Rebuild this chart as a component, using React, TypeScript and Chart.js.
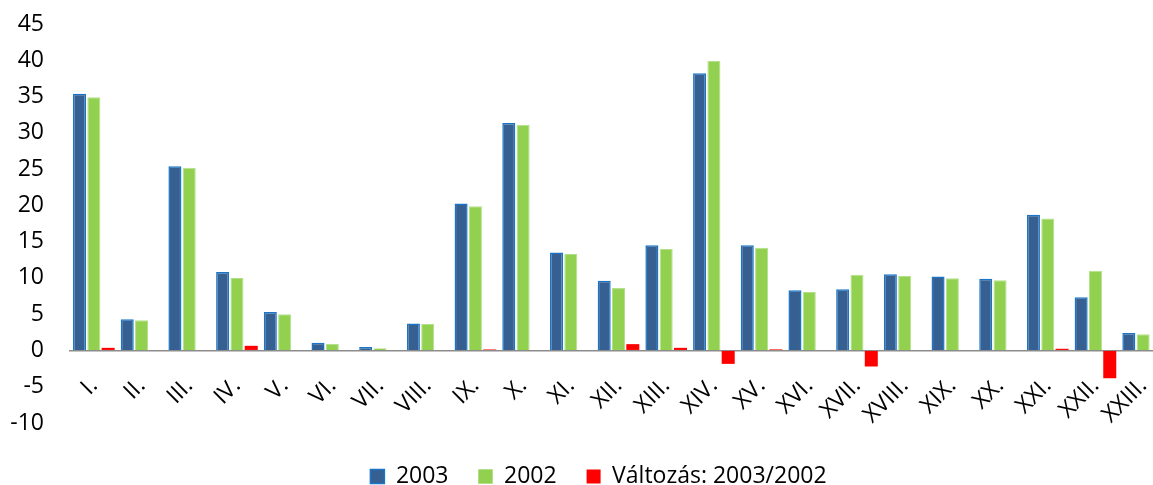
import React, { useEffect, useRef } from "react";
import { Chart, registerables } from "chart.js";

Chart.register(...registerables);

const categories = [
  "I.", "II.", "III.", "IV.", "V.", "VI.", "VII.", "VIII.", "IX.", "X.", "XI.", "XII.",
  "XIII.", "XIV.", "XV.", "XVI.", "XVII.", "XVIII.", "XIX.", "XX.", "XXI.", "XXII.", "XXIII.",
];
const values2003 = [
  35.4, 4.3, 25.4, 10.8, 5.3, 1.05, 0.46, 3.73, 20.24, 31.35, 13.5, 9.6,
  14.5, 38.2, 14.5, 8.3, 8.45, 10.5, 10.2, 9.9, 18.7, 7.33, 2.4,
];
const values2002 = [
  34.9, 4.15, 25.2, 10.0, 5.0, 0.9, 0.32, 3.64, 19.87, 31.1, 13.3, 8.6,
  14.0, 39.9, 14.15, 8.06, 10.42, 10.28, 9.96, 9.68, 18.2, 11.0, 2.25,
];
const valuesChange = [
  0.36, 0, 0, 0.64, 0, 0, 0, 0, 0.14, 0, 0, 0.87,
  0.36, -1.85, 0.15, 0, -2.21, 0, 0, 0, 0.23, -3.83, 0,
];
const seriesLabels = ["2003", "2002", "Változás: 2003/2002"];
const yTicks = { min: -10, max: 45, step: 5 };

const FONT = "'Open Sans', 'Liberation Sans', sans-serif";

const legendShift = {
  id: "legendShift",
  beforeDraw(chart: any) {
    const lg = chart.legend;
    if (lg && !lg.__shifted) {
      lg.left += 15;
      lg.right += 15;
      lg.__shifted = true;
    }
  },
};

export default function App() {
  const ref = useRef<HTMLCanvasElement | null>(null);

  useEffect(() => {
    if (!ref.current) return;
    const chart = new Chart(ref.current, {
      type: "bar",
      data: {
        labels: categories,
        datasets: [
          {
            label: seriesLabels[0],
            data: values2003,
            backgroundColor: "#366092",
            borderColor: "#1A75C8",
            borderWidth: 1.5,
          },
          {
            label: seriesLabels[1],
            data: values2002,
            backgroundColor: "#92D050",
            borderColor: "#B3E08A",
            borderWidth: 1,
          },
          {
            label: seriesLabels[2],
            data: valuesChange,
            backgroundColor: "#FF0000",
            borderColor: "#FF0000",
            borderWidth: 0,
          },
        ],
      },
      plugins: [legendShift],
      options: {
        responsive: false,
        animation: false,
        devicePixelRatio: 1,
        layout: { padding: { left: 0, right: 30, top: 24, bottom: -13 } },
        datasets: {
          bar: { categoryPercentage: 0.9, barPercentage: 0.91 },
        },
        plugins: {
          title: { display: false },
          tooltip: { enabled: false },
          legend: {
            position: "bottom",
            title: { display: true, text: "", font: { size: 1 }, padding: { top: 10.8, bottom: 0 } },
            labels: {
              boxWidth: 14,
              boxHeight: 14,
              padding: 30,
              color: "#000",
              font: { family: FONT, size: 23 },
            },
          },
        },
        scales: {
          x: {
            position: { y: 0 } as any,
            grid: { display: true, color: "rgba(0,0,0,0)", drawTicks: false, drawOnChartArea: false },
            border: { display: true, color: "#8C8C8C", width: 1.5 },
            ticks: {
              autoSkip: false,
              minRotation: 45,
              maxRotation: 45,
              padding: 22,
              color: "#000",
              font: { family: FONT, size: 23 },
            },
          },
          y: {
            min: yTicks.min,
            max: yTicks.max,
            grid: {
              display: true,
              drawOnChartArea: false,
              drawTicks: true,
              tickLength: 26,
              color: "rgba(0,0,0,0)",
            },
            border: { display: false },
            afterFit: (scale: any) => {
              scale.width = 70;
            },
            ticks: {
              stepSize: yTicks.step,
              padding: 0,
              color: "#000",
              font: { family: FONT, size: 23 },
            },
          },
        },
      },
    });
    return () => chart.destroy();
  }, []);

  return (
    <div style={{ position: "absolute", left: 0, top: 0, width: 1153, height: 485, overflow: "hidden", background: "#fff" }}>
      <canvas ref={ref} width={1197} height={485} style={{ width: 1197, height: 485, display: "block" }} />
    </div>
  );
}
